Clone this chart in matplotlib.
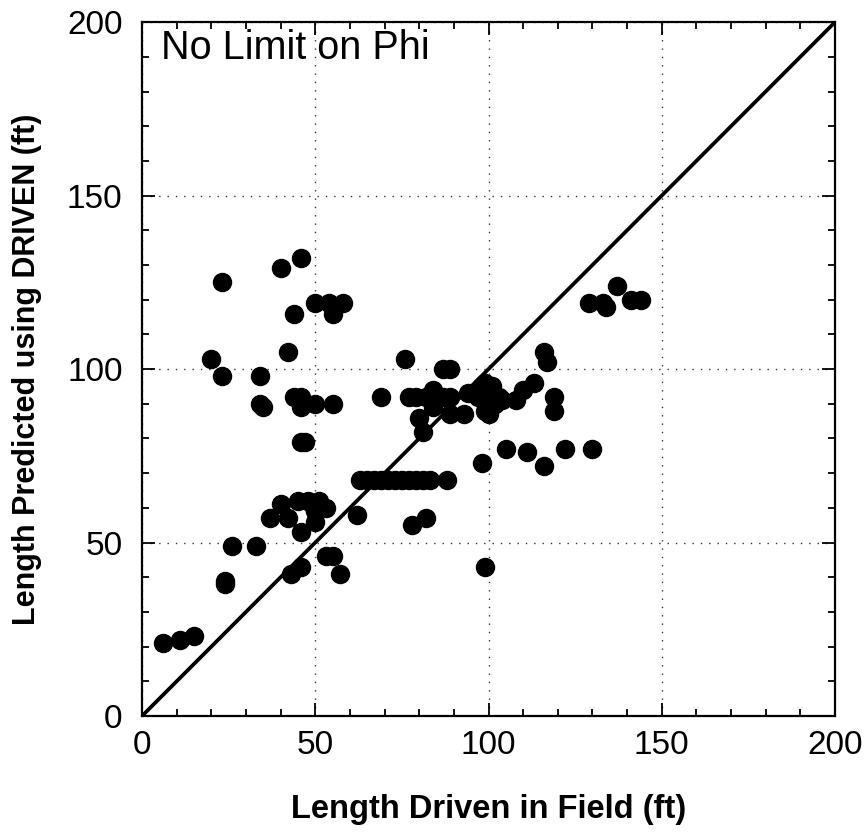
import numpy as np
import matplotlib.pyplot as plt
from matplotlib.ticker import MultipleLocator

plt.rcParams['font.family'] = ['Liberation Sans', 'DejaVu Sans']

# length driven in field (ft) vs length predicted by DRIVEN (ft)
driven = [6, 11, 15, 24, 24, 26, 33, 37, 40, 42, 45, 46, 43, 46, 49, 50, 53, 53, 55, 57, 62,
          48, 51, 50,
          23, 40, 46, 44, 50, 54, 58, 55, 42, 20, 23, 34, 34, 35, 44, 46, 46, 50, 55, 46, 47,
          69, 76, 77, 79, 82, 84, 87, 89, 87, 89, 84, 84, 80, 81, 89, 93, 94,
          97, 98, 99, 100, 101, 102, 99, 103, 104, 100, 108, 110, 113, 116, 117, 119, 119,
          105, 111, 116, 122, 130, 98,
          63, 65, 67, 69, 71, 73, 75, 77, 79, 81, 83, 88,
          78, 82, 99,
          129, 133, 134, 137, 141, 144]
predicted = [21, 22, 23, 39, 38, 49, 49, 57, 61, 57, 62, 53, 41, 43, 61, 56, 60, 46, 46, 41, 58,
             62, 62, 59,
             125, 129, 132, 116, 119, 119, 119, 116, 105, 103, 98, 98, 90, 89, 92, 92, 89, 90, 90, 79, 79,
             92, 103, 92, 92, 92, 93, 92, 92, 100, 100, 94, 89, 86, 82, 87, 87, 93,
             92, 95, 96, 93, 95, 90, 88, 92, 91, 87, 91, 94, 96, 105, 102, 92, 88,
             77, 76, 72, 77, 77, 73,
             68, 68, 68, 68, 68, 68, 68, 68, 68, 68, 68, 68,
             55, 57, 43,
             119, 119, 118, 124, 120, 120]

fig = plt.figure(figsize=(8.67, 8.38), dpi=100)
ax = fig.add_axes([0.1638, 0.1456, 0.7993, 0.828])

ax.plot([0, 200], [0, 200], color='black', lw=2.7, zorder=2)
ax.plot(driven, predicted, 'o', color='black', ms=13, zorder=3, clip_on=False)

ax.set_xlim(0, 200)
ax.set_ylim(0, 200)
ax.xaxis.set_major_locator(MultipleLocator(50))
ax.yaxis.set_major_locator(MultipleLocator(50))
ax.xaxis.set_minor_locator(MultipleLocator(10))
ax.yaxis.set_minor_locator(MultipleLocator(10))
ax.tick_params(which='both', direction='in', top=True, right=True, width=1.3)
ax.tick_params(which='major', length=9.5, labelsize=24)
ax.tick_params(axis='y', which='major', pad=14)
ax.tick_params(axis='x', which='major', pad=10)
ax.tick_params(which='minor', length=5)
ax.grid(True, which='major', linestyle=(0, (1, 5)), color='black', lw=1.0, alpha=0.8)
for s in ax.spines.values():
    s.set_linewidth(1.6)

ax.set_xlabel('Length Driven in Field (ft)', fontsize=23.5, fontweight='bold', labelpad=24)
ax.set_ylabel('Length Predicted using DRIVEN (ft)', fontsize=22, fontweight='bold', labelpad=18)
ax.text(0.028, 0.99, 'No Limit on Phi', transform=ax.transAxes, fontsize=28.5,
        va='top', ha='left')

fig.savefig('out.png', dpi=100)
